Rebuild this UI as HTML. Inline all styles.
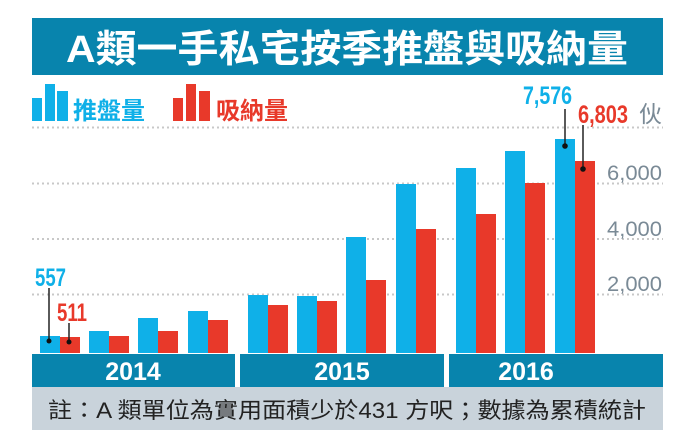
<!DOCTYPE html>
<html><head><meta charset="utf-8"><style>
html,body{margin:0;padding:0;background:#fff;}
svg{display:block;}
</style></head><body>
<svg width="694" height="448" xmlns="http://www.w3.org/2000/svg" font-family="'Liberation Sans','Noto Sans CJK TC',sans-serif">
<rect x="32" y="18" width="631" height="57" fill="#0884ad"/>
<text x="347" y="62" text-anchor="middle" font-size="38" font-weight="bold" fill="#fff" textLength="562" lengthAdjust="spacingAndGlyphs">A類一手私宅按季推盤與吸納量</text>
<!-- legend -->
<rect x="32" y="98" width="10" height="23" fill="#0fb0e8"/>
<rect x="45" y="84" width="10" height="37" fill="#0fb0e8"/>
<rect x="57" y="91" width="11" height="30" fill="#0fb0e8"/>
<text x="73" y="119" font-size="24" font-weight="bold" fill="#0fb0e8" textLength="72" lengthAdjust="spacingAndGlyphs">推盤量</text>
<rect x="173" y="98" width="10" height="23" fill="#e8392a"/>
<rect x="186" y="84" width="10" height="37" fill="#e8392a"/>
<rect x="199" y="91" width="11" height="30" fill="#e8392a"/>
<text x="216" y="119" font-size="24" font-weight="bold" fill="#e8392a" textLength="72" lengthAdjust="spacingAndGlyphs">吸納量</text>
<!-- gridlines -->
<g stroke="#c8c8c8" stroke-width="2" stroke-dasharray="2,3">
<line x1="32" y1="127.5" x2="663" y2="127.5"/>
<line x1="32" y1="183.5" x2="663" y2="183.5"/>
<line x1="32" y1="239" x2="663" y2="239"/>
<line x1="32" y1="294.5" x2="663" y2="294.5"/>
</g>
<g font-size="21" fill="#7a8a96" text-anchor="end">
<text x="662" y="180" textLength="55" lengthAdjust="spacingAndGlyphs">6,000</text>
<text x="662" y="236" textLength="55" lengthAdjust="spacingAndGlyphs">4,000</text>
<text x="662" y="291" textLength="55" lengthAdjust="spacingAndGlyphs">2,000</text>
</g>
<text x="662" y="122" font-size="23" fill="#7a8a96" text-anchor="end">伙</text>
<!-- bars -->
<g fill="#0fb0e8">
<rect x="40" y="336" width="20" height="17"/>
<rect x="89" y="331" width="20" height="22"/>
<rect x="138" y="318" width="20" height="35"/>
<rect x="188" y="311" width="20" height="42"/>
<rect x="248" y="295" width="20" height="58"/>
<rect x="297" y="296" width="20" height="57"/>
<rect x="346" y="237" width="20" height="116"/>
<rect x="396" y="184" width="20" height="169"/>
<rect x="456" y="168" width="20" height="185"/>
<rect x="505" y="151" width="20" height="202"/>
<rect x="555" y="139" width="20" height="214"/>
</g>
<g fill="#e8392a">
<rect x="60" y="337" width="20" height="16"/>
<rect x="109" y="336" width="20" height="17"/>
<rect x="158" y="331" width="20" height="22"/>
<rect x="208" y="320" width="20" height="33"/>
<rect x="268" y="305" width="20" height="48"/>
<rect x="317" y="301" width="20" height="52"/>
<rect x="366" y="280" width="20" height="73"/>
<rect x="416" y="229" width="20" height="124"/>
<rect x="476" y="214" width="20" height="139"/>
<rect x="525" y="183" width="20" height="170"/>
<rect x="575" y="161" width="20" height="192"/>
</g>
<!-- callouts -->
<g stroke="#222" stroke-width="1.5">
<line x1="49" y1="288" x2="49" y2="341"/>
<line x1="69" y1="323" x2="69" y2="342"/>
<line x1="565" y1="109" x2="565" y2="146"/>
<line x1="583" y1="125" x2="583" y2="169"/>
</g>
<g fill="#111">
<circle cx="49" cy="341" r="2.5"/><circle cx="69" cy="342" r="2.5"/>
<circle cx="565" cy="146" r="2.8"/><circle cx="583" cy="169" r="2.8"/>
</g>
<g font-weight="bold" font-size="25">
<text x="35" y="286" fill="#0fb0e8" textLength="31" lengthAdjust="spacingAndGlyphs">557</text>
<text x="57" y="321" fill="#e8392a" textLength="30" lengthAdjust="spacingAndGlyphs">511</text>
<text x="523" y="104" fill="#0fb0e8" textLength="49" lengthAdjust="spacingAndGlyphs">7,576</text>
<text x="578" y="123" fill="#e8392a" textLength="50" lengthAdjust="spacingAndGlyphs">6,803</text>
</g>
<!-- year bar -->
<rect x="32" y="354" width="631" height="33" fill="#0884ad"/>
<rect x="235" y="354" width="5" height="33" fill="#fff"/>
<rect x="444" y="354" width="5" height="33" fill="#fff"/>
<g font-size="25" font-weight="bold" fill="#fff" text-anchor="middle">
<text x="133" y="380">2014</text>
<text x="342" y="380">2015</text>
<text x="526" y="380">2016</text>
</g>
<rect x="32" y="387" width="631" height="43" fill="#c9d3db"/>
<text x="48" y="418" font-size="22" fill="#222" textLength="598" lengthAdjust="spacingAndGlyphs">註：A 類單位為實用面積少於431 方呎；數據為累積統計</text>
</svg>
</body></html>
